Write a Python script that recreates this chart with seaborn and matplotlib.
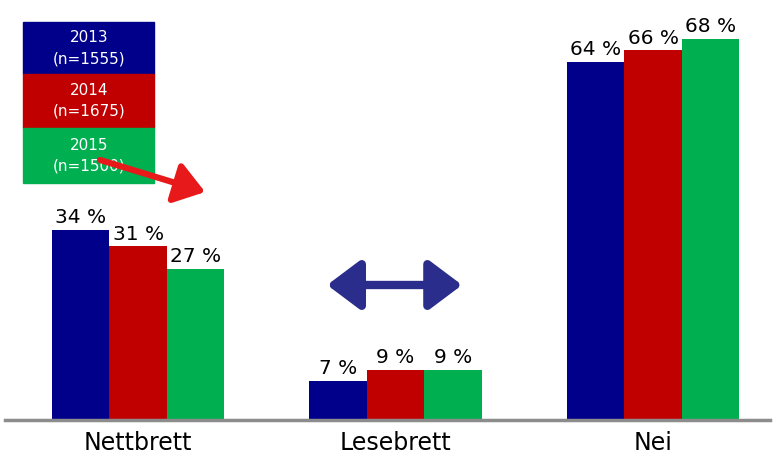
import matplotlib
matplotlib.use("Agg")
import matplotlib.pyplot as plt
import pandas as pd
import seaborn as sns
from matplotlib.patches import Rectangle

# data
kategorier = ["Nettbrett", "Lesebrett", "Nei"]
aar = ["2013", "2014", "2015"]
utvalg = ["n=1555", "n=1675", "n=1500"]
v2013 = [34, 7, 64]
v2014 = [31, 9, 66]
v2015 = [27, 9, 68]
farger = ["#00008B", "#C00000", "#00B050"]

rows = []
for i, k in enumerate(kategorier):
    for a, vals in zip(aar, [v2013, v2014, v2015]):
        rows.append({"kategori": k, "aar": a, "andel": vals[i]})
df = pd.DataFrame(rows)

sns.set_style("white")
plt.rcParams["font.family"] = ["DejaVu Sans"]
plt.rcParams["text.color"] = "black"
plt.rcParams["xtick.color"] = "black"

W, H = 774, 463
fig = plt.figure(figsize=(W / 100, H / 100), dpi=100)
# axes: x 5..770 px, y 0..420 px (from top)
ax = fig.add_axes([5 / W, (H - 420) / H, 765 / W, 420 / H])
ax.patch.set_visible(False)

sns.barplot(data=df, x="kategori", y="andel", hue="aar", palette=farger,
            order=kategorier, hue_order=aar, width=0.67, saturation=1,
            linewidth=0, legend=False, ax=ax)

for cont in ax.containers:
    ax.bar_label(cont, labels=[f"{int(b.get_height())} %" for b in cont],
                 padding=2, fontsize=14.5, color="black",
                 family="DejaVu Sans Condensed")

ax.set_xlim(-0.517, 2.454)
ax.set_ylim(0, 75)
ax.set_xlabel("")
ax.set_ylabel("")
ax.set_yticks([])
ax.tick_params(axis="x", length=0, pad=8, labelsize=17, labelcolor="black")
for s in ["top", "left", "right"]:
    ax.spines[s].set_visible(False)
ax.spines["bottom"].set_color("#8c8c8c")
ax.spines["bottom"].set_linewidth(2.5)

# legend box (figure pixels, from top), drawn under the axes
def fy(py):
    return (H - py) / H

rader = [(22, 74), (74, 128), (128, 183)]
for (y0, y1), a, n, c in zip(rader, aar, utvalg, farger):
    fig.patches.append(Rectangle((23 / W, fy(y1)), 131 / W, (y1 - y0) / H,
                                 transform=fig.transFigure, color=c, zorder=-2))
    fig.text(89 / W, fy((y0 + y1) / 2), f"{a}\n({n})", color="white",
             ha="center", va="center", fontsize=11, linespacing=1.5, zorder=-1)

# red arrow from the legend
ax.annotate("", xy=((205 - 138) / 257.5, (420 - 192) / 5.6),
            xytext=((100 - 138) / 257.5, (420 - 160) / 5.6),
            arrowprops=dict(arrowstyle="-|>,head_length=1.0,head_width=0.7",
                            lw=4.5, color="#E8191B", shrinkA=0, shrinkB=0,
                            mutation_scale=18),
            annotation_clip=False, zorder=5)

# blue double arrow
ax.annotate("", xy=((462 - 138) / 257.5, (420 - 285) / 5.6),
            xytext=((327 - 138) / 257.5, (420 - 285) / 5.6),
            arrowprops=dict(arrowstyle="<|-|>,head_length=1.0,head_width=0.75",
                            lw=6, color="#2B2D8C", shrinkA=0, shrinkB=0,
                            mutation_scale=20))

fig.savefig("out.png", dpi=100)
